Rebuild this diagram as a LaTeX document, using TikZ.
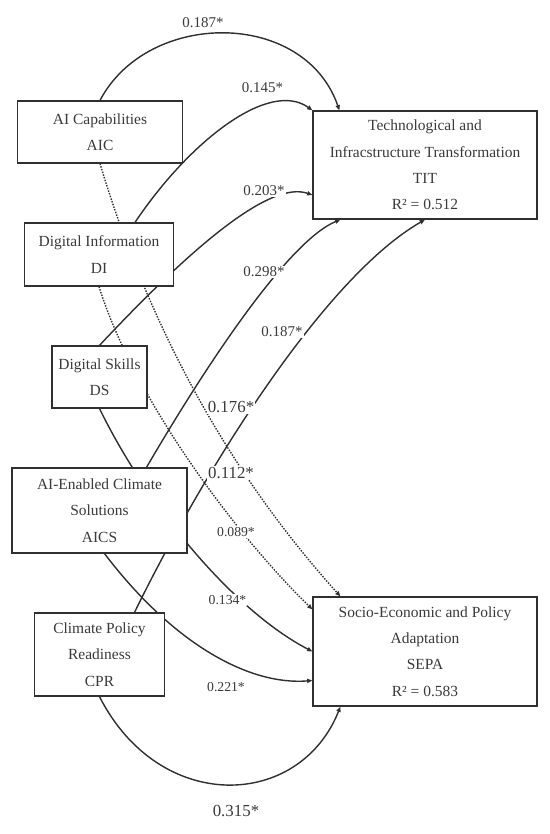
\documentclass[tikz,border=0pt]{standalone}
\usepackage{fontspec}
\setmainfont{Liberation Serif}
\usepackage{tikz}
\usetikzlibrary{arrows.meta,calc,backgrounds}
\definecolor{cInk}{HTML}{3A3A3A}
\definecolor{cLine}{HTML}{303030}
\tikzset{
  vbox/.style={draw=cLine,fill=white,line width=0.7pt,align=center,text=cInk,font=\fontsize{8.8}{15}\selectfont,inner sep=2pt},
  pth/.style={-{Triangle[length=3pt,width=2.4pt]},line width=0.8pt,color=cLine},
  dpth/.style={pth,dash pattern=on 0.8pt off 0.8pt},
  lbl/.style={font=\fontsize{8.5}{10}\selectfont,text=cInk,fill=white,inner sep=0.6pt},
  lblbig/.style={lbl,font=\fontsize{9.6}{11}\selectfont},
  lblsmall/.style={lbl,font=\fontsize{7.8}{9}\selectfont},
}

\begin{document}
\begin{tikzpicture}[x=0.02cm,y=-0.02cm]
  \useasboundingbox (0,0) rectangle (550,834);
  % constructs
  \node[vbox,minimum width=3.3cm,minimum height=1.24cm] (AIC) at (100,132) {AI Capabilities\\AIC};
  \node[vbox,minimum width=2.98cm,minimum height=1.26cm] (DI) at (99,254.5) {Digital Information\\DI};
  \node[vbox,minimum width=1.9cm,minimum height=1.24cm] (DS) at (99.5,377) {Digital Skills\\DS};
  \node[vbox,minimum width=3.5cm,minimum height=1.7cm] (AICS) at (99.5,510.5) {AI-Enabled Climate\\Solutions\\AICS};
  \node[vbox,minimum width=2.6cm,minimum height=1.66cm] (CPR) at (99.5,654.5) {Climate Policy\\Readiness\\CPR};
  \node[vbox,minimum width=4.48cm,minimum height=2.16cm] (TIT) at (425,165) {Technological and\\Infracstructure Transformation\\TIT\\R² = 0.512};
  \node[vbox,minimum width=4.48cm,minimum height=2.18cm] (SEPA) at (425,651.5) {Socio-Economic and Policy\\Adaptation\\SEPA\\R² = 0.583};

  % paths (behind the boxes)
  \begin{scope}[on background layer]
    \draw[pth] (AIC.north) .. controls +(48,-91) and +(-35,-101) .. ($(TIT.north west)+(27,0)$);
    \draw[pth] ($(DI.north)+(36,0)$) .. controls +(55,-82) and +(-43,-31) .. (TIT.north west);
    \draw[pth] (DS.north) .. controls +(90,-96) and +(-43,-15) .. ($(TIT.west)+(0,30)$);
    \draw[pth] ($(AICS.north)+(47,0)$) .. controls +(63,-108) and +(-51,21) .. ($(TIT.south west)+(28,0)$);
    \draw[pth] ($(CPR.north)+(35,0)$) .. controls +(65,-133) and +(-104,60) .. (TIT.south);
    \draw[dpth] (AIC.south) .. controls +(42,140) and +(-126,-140) .. ($(SEPA.north west)+(28,0)$);
    \draw[dpth] (DI.south) .. controls +(35,112) and +(-77,-75) .. ($(SEPA.north west)+(0,13)$);
    \draw[pth] (DS.south) .. controls +(50,102) and +(-77,-40) .. (SEPA.west);
    \draw[pth] ($(AICS.south)+(5,0)$) .. controls +(70,92) and +(-62,5) .. ($(SEPA.west)+(0,29)$);
    \draw[pth] (CPR.south) .. controls +(60,118) and +(-41,103) .. ($(SEPA.south west)+(28,0)$);
  \end{scope}

  % coefficients
  \foreach \x/\y/\t/\s [count=\i] in {203/23/0.187*/lbl, 262.5/88/0.145*/lbl, 264/191/0.203*/lbl, 264/272/0.298*/lbl,
      282/332/0.187*/lbl, 231/407/0.176*/lblbig, 231/473/0.112*/lblbig, 236/532/0.089*/lblsmall,
      227.5/600/0.134*/lblsmall, 226/687/0.221*/lblsmall, 236/811/0.315*/lblbig}
    \node[\s] (coef\i) at (\x,\y) {\t};
\end{tikzpicture}
\end{document}
